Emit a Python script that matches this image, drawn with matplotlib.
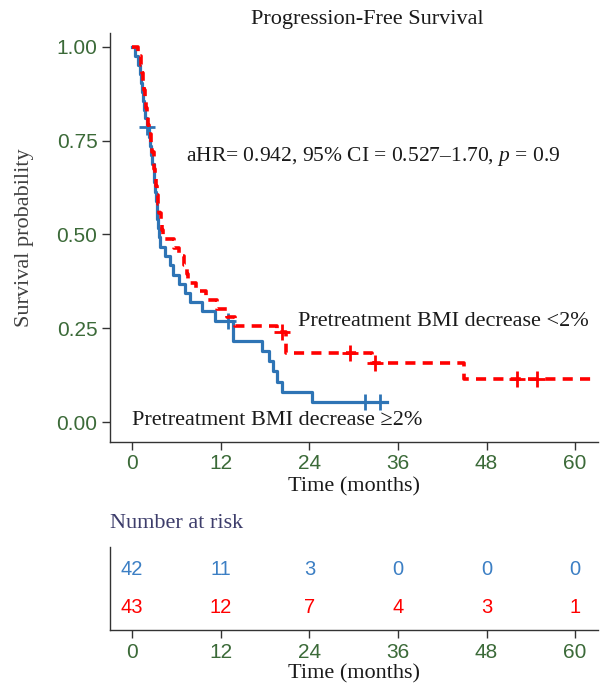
#!/usr/bin/env python3
"""Kaplan-Meier plot of progression-free survival with a number-at-risk table."""

import matplotlib

matplotlib.use("Agg")
import matplotlib.pyplot as plt

# Step curve for pretreatment BMI decrease >=2%
blue_t = [0, 0.4, 0.85, 1.0, 1.15, 1.3, 1.45, 1.55, 1.8, 1.95, 2.3, 2.45, 2.6,
          2.75, 2.9, 3.0, 3.1, 3.2, 3.3, 3.4, 3.5, 3.6, 3.8, 4.4, 5.1, 5.6,
          6.3, 7.2, 7.9, 9.4, 11.2, 13.7, 17.6, 18.5, 19.1, 19.6, 20.3, 24.4,
          34.5]
blue_s = [1.0, 0.976, 0.952, 0.929, 0.905, 0.881, 0.857, 0.833, 0.810, 0.786,
          0.761, 0.737, 0.712, 0.688, 0.663, 0.639, 0.614, 0.590, 0.565,
          0.541, 0.516, 0.492, 0.467, 0.442, 0.418, 0.393, 0.369, 0.344,
          0.319, 0.295, 0.270, 0.216, 0.189, 0.162, 0.135, 0.108, 0.081,
          0.054, 0.054]
blue_cens_t = [2.05, 13.0, 31.6, 33.6]
blue_cens_s = [0.786, 0.270, 0.054, 0.054]

# Step curve for pretreatment BMI decrease <2%
red_t = [0, 0.8, 1.2, 1.35, 1.5, 1.6, 1.75, 1.9, 2.05, 2.2, 2.35, 2.6, 2.75,
         2.9, 3.0, 3.1, 3.2, 3.35, 3.5, 3.7, 3.85, 4.0, 4.2, 5.7, 6.3, 7.0,
         7.4, 7.6, 8.6, 10.0, 11.5, 12.8, 13.9, 19.6, 20.9, 32.5, 45.0, 63.0]
red_s = [1.0, 0.977, 0.953, 0.930, 0.907, 0.884, 0.860, 0.837, 0.814, 0.791,
         0.767, 0.744, 0.721, 0.698, 0.674, 0.651, 0.628, 0.605, 0.581, 0.558,
         0.535, 0.512, 0.488, 0.465, 0.442, 0.419, 0.395, 0.372, 0.349, 0.326,
         0.302, 0.279, 0.256, 0.240, 0.183, 0.157, 0.114, 0.114]
red_cens_t = [20.3, 29.5, 32.9, 52.1, 54.8]
red_cens_s = [0.240, 0.183, 0.157, 0.114, 0.114]

risk_times = [0, 12, 24, 36, 48, 60]
risk_blue = [42, 11, 3, 0, 0, 0]
risk_red = [43, 12, 7, 4, 3, 1]

y_ticks = [0.0, 0.25, 0.5, 0.75, 1.0]
y_tick_labels = ["0.00", "0.25", "0.50", "0.75", "1.00"]

BLUE = "#2E74B5"
RED = "#FF0000"
TICK_GREEN = "#3B6A38"
SPINE = "#333333"
SERIF = "Liberation Serif"
SANS = "Liberation Sans"


def style_axis(ax):
    for side in ("top", "right"):
        ax.spines[side].set_visible(False)
    for side in ("left", "bottom"):
        ax.spines[side].set_color(SPINE)
        ax.spines[side].set_linewidth(1.0)
    ax.tick_params(colors=SPINE, length=6, width=1.0, pad=3,
                   labelcolor=TICK_GREEN, labelsize=15)
    for lab in ax.get_xticklabels() + ax.get_yticklabels():
        lab.set_family(SANS)


def plot_curves(ax):
    ax.step(blue_t, blue_s, where="post", color=BLUE, lw=2.3)
    ax.plot(blue_cens_t, blue_cens_s, ls="none", marker="+", ms=11,
            mew=2.0, color=BLUE)
    ax.step(red_t, red_s, where="post", color=RED, lw=2.6,
            linestyle=(0, (2.8, 2.0)))
    ax.plot(red_cens_t, red_cens_s, ls="none", marker="+", ms=11,
            mew=2.0, color=RED)

    ax.set_xlim(-3, 63.1)
    ax.set_ylim(-0.053, 1.037)
    ax.set_xticks(risk_times)
    ax.set_yticks(y_ticks)
    ax.set_yticklabels(y_tick_labels)
    style_axis(ax)

    ax.set_xlabel("Time (months)", family=SERIF, fontsize=16,
                  color="#1a1a1a", labelpad=3)
    ax.set_ylabel("Survival probability", family=SERIF, fontsize=16,
                  color="#404040", labelpad=16)

    ax.text(7.3, 0.709, "aHR= 0.942, 95% CI = 0.527\u20131.70, $\\it{p}$ = 0.9",
            family=SERIF, fontsize=15.5, color="#1a1a1a", va="center")
    ax.text(22.5, 0.267, "Pretreatment BMI decrease <2%", family=SERIF,
            fontsize=16, color="#1a1a1a", va="center")
    ax.text(0, 0.003, "Pretreatment BMI decrease \u22652%", family=SERIF,
            fontsize=16, color="#1a1a1a", va="center")


def plot_risk_table(ax):
    for t, nb, nr in zip(risk_times, risk_blue, risk_red):
        ax.text(t, 1, str(nb), ha="center", va="center", color="#3C7FC4",
                family=SANS, fontsize=14.5)
        ax.text(t, 0, str(nr), ha="center", va="center", color=RED,
                family=SANS, fontsize=14.5)
    ax.set_xlim(-3, 63.1)
    ax.set_ylim(-0.58, 1.6)
    ax.set_xticks(risk_times)
    ax.set_yticks([])
    style_axis(ax)
    ax.set_xlabel("Time (months)", family=SERIF, fontsize=16,
                  color="#1a1a1a", labelpad=2)


def main() -> int:
    plt.rcParams["mathtext.fontset"] = "custom"
    plt.rcParams["mathtext.it"] = "Liberation Serif:italic"
    plt.rcParams["mathtext.rm"] = "Liberation Serif"

    fig = plt.figure(figsize=(6.06, 6.86), dpi=100)
    ax = fig.add_axes([0.1815, 0.3557, 0.8053, 0.5962])
    plot_curves(ax)

    ax_risk = fig.add_axes([0.1815, 0.0816, 0.8053, 0.1210])
    plot_risk_table(ax_risk)

    fig.text(0.606, 0.971, "Progression-Free Survival", family=SERIF,
             fontsize=16, color="#1a1a1a", ha="center", va="center")
    fig.text(110 / 606, 1 - 524 / 686, "Number at risk", family=SERIF,
             fontsize=16, color="#3D3D6B", ha="left", va="center")

    fig.savefig("out.png", dpi=100)
    return 0


if __name__ == "__main__":
    raise SystemExit(main())
